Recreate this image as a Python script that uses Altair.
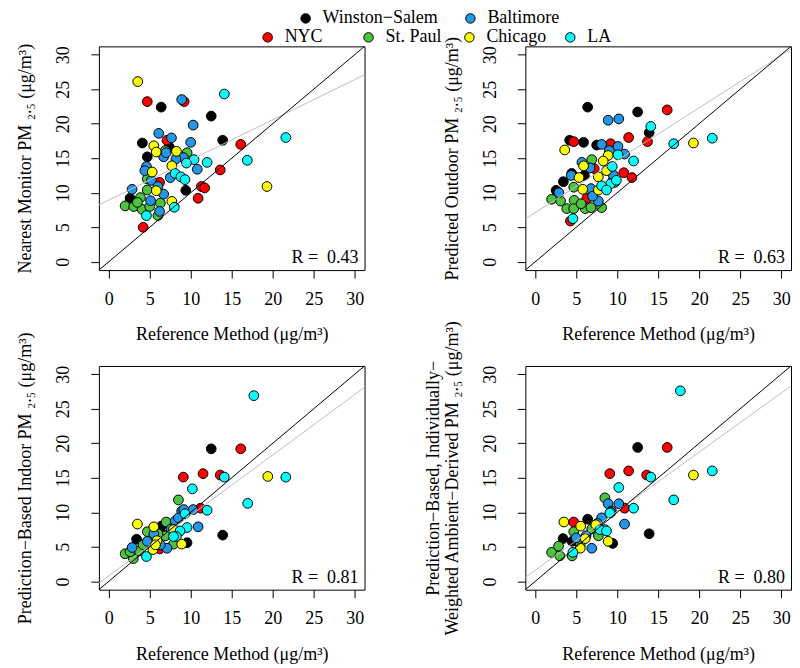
import altair as alt
import pandas as pd

FONT = "Liberation Serif"
FS = 18

CITIES = ["Winston−Salem", "Baltimore", "NYC", "St. Paul", "Chicago", "LA"]
CITY_COLORS = ["#000000", "#2297E6", "#FF0000", "#4DC440", "#FFFF00", "#00FFFF"]
DRAW_ORDER = ["Winston−Salem", "NYC", "St. Paul", "Baltimore", "Chicago", "LA"]
LEGEND_ROW1 = ["Winston−Salem", "Baltimore"]
LEGEND_ROW2 = ["NYC", "St. Paul", "Chicago", "LA"]

TICKS = [0, 5, 10, 15, 20, 25, 30]
AXIS_LIMITS = [-1.2, 31.2]
X_TITLE = "Reference Method (μg/m³)"
Y_TITLES = [
    "Nearest Monitor PM ₂.₅ (μg/m³)",
    "Predicted Outdoor PM ₂.₅ (μg/m³)",
    "Prediction−Based Indoor PM ₂.₅ (μg/m³)",
    ["Prediction−Based, Individually−", "Weighted Ambient−Derived PM ₂.₅ (μg/m³)"],
]
R_VALUES = ["0.43", "0.63", "0.81", "0.80"]
FIT_INTERCEPT = [8.93, 7.12, 0.81, 1.6]
FIT_SLOPE = [0.582, 0.759, 0.875, 0.856]

# ---- Panel 1: Nearest monitor ----
P1_X = {
    "Winston−Salem": [6.4, 12.5, 4.1, 13.9, 4.7, 9.4, 2.6, 7.4],
    "NYC": [4.7, 9.2, 7.1, 16.1, 13.6, 6.2, 11.3, 11.7, 10.9, 4.2],
    "St. Paul": [6.9, 9.56, 4.7, 4.7, 3.87, 6.3, 2.0, 3.05, 4.07, 6.0, 5.0, 3.5],
    "Baltimore": [8.9, 10.3, 6.1, 7.65, 10.0, 6.7, 9.1, 8.2, 4.6, 10.8, 7.5, 2.85, 6.7, 5.1, 4.4, 5.2, 6.0, 7.0, 6.2],
    "Chicago": [3.54, 5.5, 5.8, 8.26, 7.7, 5.3, 5.8, 7.7, 19.3],
    "LA": [14.1, 21.6, 16.9, 12.0, 10.4, 9.47, 8.1, 8.8, 9.3, 8.0, 4.6],
}
P1_Y = {
    "Winston−Salem": [22.4, 21.1, 17.2, 17.6, 15.2, 10.35, 9.2, 16.6],
    "NYC": [23.2, 23.2, 17.6, 17.0, 13.3, 11.5, 10.9, 10.7, 9.2, 5.0],
    "St. Paul": [16.1, 15.8, 12.0, 10.4, 9.3, 8.5, 8.1, 8.0, 7.6, 6.7, 8.0, 8.6],
    "Baltimore": [23.5, 19.8, 18.6, 17.95, 17.3, 15.2, 15.1, 14.9, 13.8, 13.4, 12.2, 10.5, 9.8, 8.85, 13.2, 11.8, 10.9, 15.8, 7.3],
    "Chicago": [26.1, 16.8, 15.9, 16.0, 13.9, 13.0, 10.3, 8.75, 10.9],
    "LA": [24.3, 18.0, 14.7, 14.4, 14.8, 14.3, 12.8, 12.3, 11.9, 7.9, 6.7],
}

# ---- Panel 2: Predicted outdoor ----
P2_X = {
    "Winston−Salem": [6.4, 12.5, 13.9, 4.2, 5.9, 7.5, 4.46, 3.44, 2.55, 6.0],
    "NYC": [16.1, 11.4, 13.7, 4.7, 9.2, 7.2, 10.8, 11.8, 6.3, 4.3],
    "St. Paul": [6.9, 9.5, 4.7, 2.0, 3.1, 4.75, 3.85, 4.7, 6.1, 6.8, 8.1, 5.6, 9.7],
    "Baltimore": [8.9, 10.2, 8.1, 10.1, 9.04, 10.9, 5.7, 6.7, 4.4, 6.8, 2.9, 7.7, 9.5, 7.0],
    "Chicago": [3.6, 8.9, 8.3, 5.9, 8.7, 5.35, 7.7, 7.7, 5.8, 19.3],
    "LA": [14.1, 16.9, 21.6, 12.0, 10.1, 9.4, 9.2, 8.1, 8.7, 4.6, 9.9],
}
P2_Y = {
    "Winston−Salem": [22.4, 21.7, 18.7, 17.6, 17.3, 16.9, 12.8, 11.6, 10.35, 12.5],
    "NYC": [22.0, 18.0, 17.4, 17.4, 17.1, 13.5, 12.9, 12.2, 9.2, 5.9],
    "St. Paul": [14.8, 11.8, 10.8, 9.05, 8.8, 8.9, 7.7, 7.7, 7.7, 7.85, 7.85, 8.4, 11.5],
    "Baltimore": [20.5, 20.7, 17.0, 16.7, 16.1, 15.6, 14.4, 13.6, 12.5, 10.6, 10.0, 8.8, 12.6, 9.5],
    "Chicago": [16.2, 15.4, 14.6, 13.9, 13.2, 12.2, 12.3, 10.4, 10.5, 17.2],
    "LA": [19.6, 17.1, 17.9, 14.6, 15.5, 13.8, 11.3, 11.0, 10.4, 6.25, 11.8],
}

# ---- Panel 3: Prediction-based indoor ----
P3_X = {
    "Winston−Salem": [12.5, 13.9, 6.4, 3.4, 9.55, 6.6, 5.0],
    "NYC": [16.1, 9.1, 11.5, 13.6, 11.2, 5.3, 6.2],
    "St. Paul": [8.5, 4.7, 6.9, 2.0, 3.0, 3.7, 7.9, 6.0, 4.2, 7.0, 2.6],
    "Baltimore": [8.9, 10.3, 9.15, 8.1, 10.9, 2.85, 7.1, 5.5, 4.7, 7.6, 8.5, 6.3],
    "Chicago": [19.4, 3.5, 5.5, 5.9, 8.9, 5.4, 5.7, 7.9],
    "LA": [17.7, 14.1, 21.6, 10.2, 16.95, 12.0, 9.3, 9.55, 8.7, 8.25, 4.6, 7.9],
}
P3_Y = {
    "Winston−Salem": [19.2, 6.7, 8.0, 6.1, 5.6, 6.8, 5.6],
    "NYC": [19.2, 15.1, 15.6, 15.4, 10.6, 6.5, 4.7],
    "St. Paul": [11.8, 7.2, 6.6, 4.0, 3.3, 4.4, 5.4, 6.9, 5.3, 8.6, 4.3],
    "Baltimore": [10.2, 10.4, 10.4, 8.75, 7.9, 4.9, 4.8, 6.9, 5.8, 7.6, 9.2, 5.3],
    "Chicago": [15.2, 8.3, 7.9, 5.9, 5.4, 4.6, 5.3, 7.5],
    "LA": [26.9, 15.1, 15.1, 13.4, 11.3, 10.3, 9.8, 7.8, 7.3, 6.5, 3.6, 6.5],
}

# ---- Panel 4: Individually-weighted ambient-derived ----
P4_X = {
    "Winston−Salem": [12.5, 13.9, 6.4, 3.4, 9.45, 4.5],
    "NYC": [16.1, 9.1, 11.4, 13.6, 10.9, 4.7],
    "St. Paul": [8.5, 4.7, 6.9, 2.0, 3.0, 2.85, 4.5, 7.7, 5.5],
    "Baltimore": [8.9, 10.2, 8.1, 10.9, 6.9, 5.0, 7.6, 9.3, 6.2],
    "Chicago": [19.3, 3.5, 5.55, 8.9, 5.5, 6.1, 7.4],
    "LA": [17.7, 14.1, 21.6, 10.2, 16.9, 12.0, 9.2, 8.5, 7.9, 8.7, 4.6, 9.1],
}
P4_Y = {
    "Winston−Salem": [19.4, 6.9, 9.0, 6.2, 5.5, 5.8],
    "NYC": [19.4, 15.6, 16.0, 15.4, 10.6, 8.6],
    "St. Paul": [12.1, 7.2, 7.6, 4.2, 3.7, 5.1, 3.7, 6.6, 5.3],
    "Baltimore": [11.25, 11.25, 9.2, 8.3, 4.8, 6.3, 8.4, 10.2, 6.6],
    "Chicago": [15.4, 8.6, 8.0, 5.8, 4.8, 6.2, 8.2],
    "LA": [27.6, 15.1, 16.0, 13.6, 11.8, 10.6, 10.0, 7.5, 7.5, 7.3, 4.2, 9.9],
}

PANEL_X = [P1_X, P2_X, P3_X, P4_X]
PANEL_Y = [P1_Y, P2_Y, P3_Y, P4_Y]

W, H = 266, 224

legend_row2 = alt.Legend(
    values=LEGEND_ROW2, title=None, orient="none", legendX=160, legendY=-18,
    direction="horizontal", columns=4, gridAlign="all", columnPadding=15,
    labelFont=FONT, labelFontSize=FS, labelColor="black", labelOffset=8,
    symbolType="circle", symbolSize=90, symbolStrokeColor="black",
    symbolStrokeWidth=1, symbolOpacity=1, padding=0,
)
legend_row1 = alt.Legend(
    title=None, orient="none", legendX=198, legendY=-37,
    direction="horizontal", columns=2, gridAlign="all", columnPadding=23,
    labelFont=FONT, labelFontSize=FS, labelColor="black", labelOffset=8,
    symbolType="circle", symbolSize=90, symbolStrokeColor="black",
    symbolStrokeWidth=1, symbolOpacity=1, padding=0,
)


def panel(i):
    rows = []
    for c in DRAW_ORDER:
        for xv, yv in zip(PANEL_X[i][c], PANEL_Y[i][c]):
            rows.append({"city": c, "x": xv, "y": yv})
    df = pd.DataFrame(rows)

    sc = alt.Scale(domain=AXIS_LIMITS, nice=False, zero=False)
    xenc = alt.X("x:Q", scale=sc, axis=alt.Axis(
        values=TICKS, title=X_TITLE, domain=False, grid=False,
        tickSize=8, tickColor="black", tickWidth=1,
        labelFont=FONT, labelFontSize=FS, labelColor="black", labelPadding=12,
        labelFlush=False, labelOverlap=False,
        titleFont=FONT, titleFontSize=FS, titleFontWeight="normal",
        titleColor="black", titlePadding=18))
    yenc = alt.Y("y:Q", scale=sc, axis=alt.Axis(
        values=TICKS, title=Y_TITLES[i], domain=False, grid=False,
        tickSize=8, tickColor="black", tickWidth=1,
        labelFont=FONT, labelFontSize=FS, labelColor="black", labelPadding=18,
        labelAngle=270, labelAlign="center", labelBaseline="bottom",
        labelFlush=False, labelOverlap=False,
        titleFont=FONT, titleFontSize=FS, titleFontWeight="normal",
        titleColor="black", titlePadding=20, titleLineHeight=19))

    pts = alt.Chart(df).mark_circle(
        size=95, stroke="black", strokeWidth=1, opacity=1
    ).encode(
        x=xenc, y=yenc,
        fill=alt.Fill("city:N", scale=alt.Scale(domain=CITIES, range=CITY_COLORS),
                      legend=legend_row2),
    )

    fit_df = pd.DataFrame({
        "x": AXIS_LIMITS,
        "y": [FIT_INTERCEPT[i] + FIT_SLOPE[i] * v for v in AXIS_LIMITS],
    })
    fit = alt.Chart(fit_df).mark_line(color="#BEBEBE", strokeWidth=1, clip=True).encode(x=xenc, y=yenc)

    id_df = pd.DataFrame({"x": AXIS_LIMITS, "y": AXIS_LIMITS})
    ident = alt.Chart(id_df).mark_line(color="black", strokeWidth=1, clip=True).encode(x=xenc, y=yenc)

    rlab = alt.Chart(pd.DataFrame({"t": ["R = \u00a0" + R_VALUES[i]]})).mark_text(
        font=FONT, fontSize=FS, align="right", baseline="middle", color="black"
    ).encode(text="t:N", x=alt.value(W - 6), y=alt.value(H - 12))

    layers = [pts, fit, ident, rlab]
    if i == 0:
        leg = alt.Chart(pd.DataFrame({"city_top": LEGEND_ROW1})).transform_filter(
            "false"
        ).mark_circle(size=90, stroke="black", strokeWidth=1, opacity=1).encode(
            color=alt.Color("city_top:N",
                            scale=alt.Scale(domain=LEGEND_ROW1, range=CITY_COLORS[:2]),
                            legend=legend_row1)
        )
        layers.append(leg)
    return alt.layer(*layers).properties(width=W, height=H)


chart = alt.concat(
    panel(0), panel(1), panel(2), panel(3),
    columns=2,
    spacing={"row": 96, "column": 161},
    bounds="flush",
    padding={"left": 8, "top": 1, "right": 0, "bottom": 0},
).configure_view(stroke="black", strokeWidth=1)

chart.save("out.html", embed_options={"renderer": "svg", "actions": False})
